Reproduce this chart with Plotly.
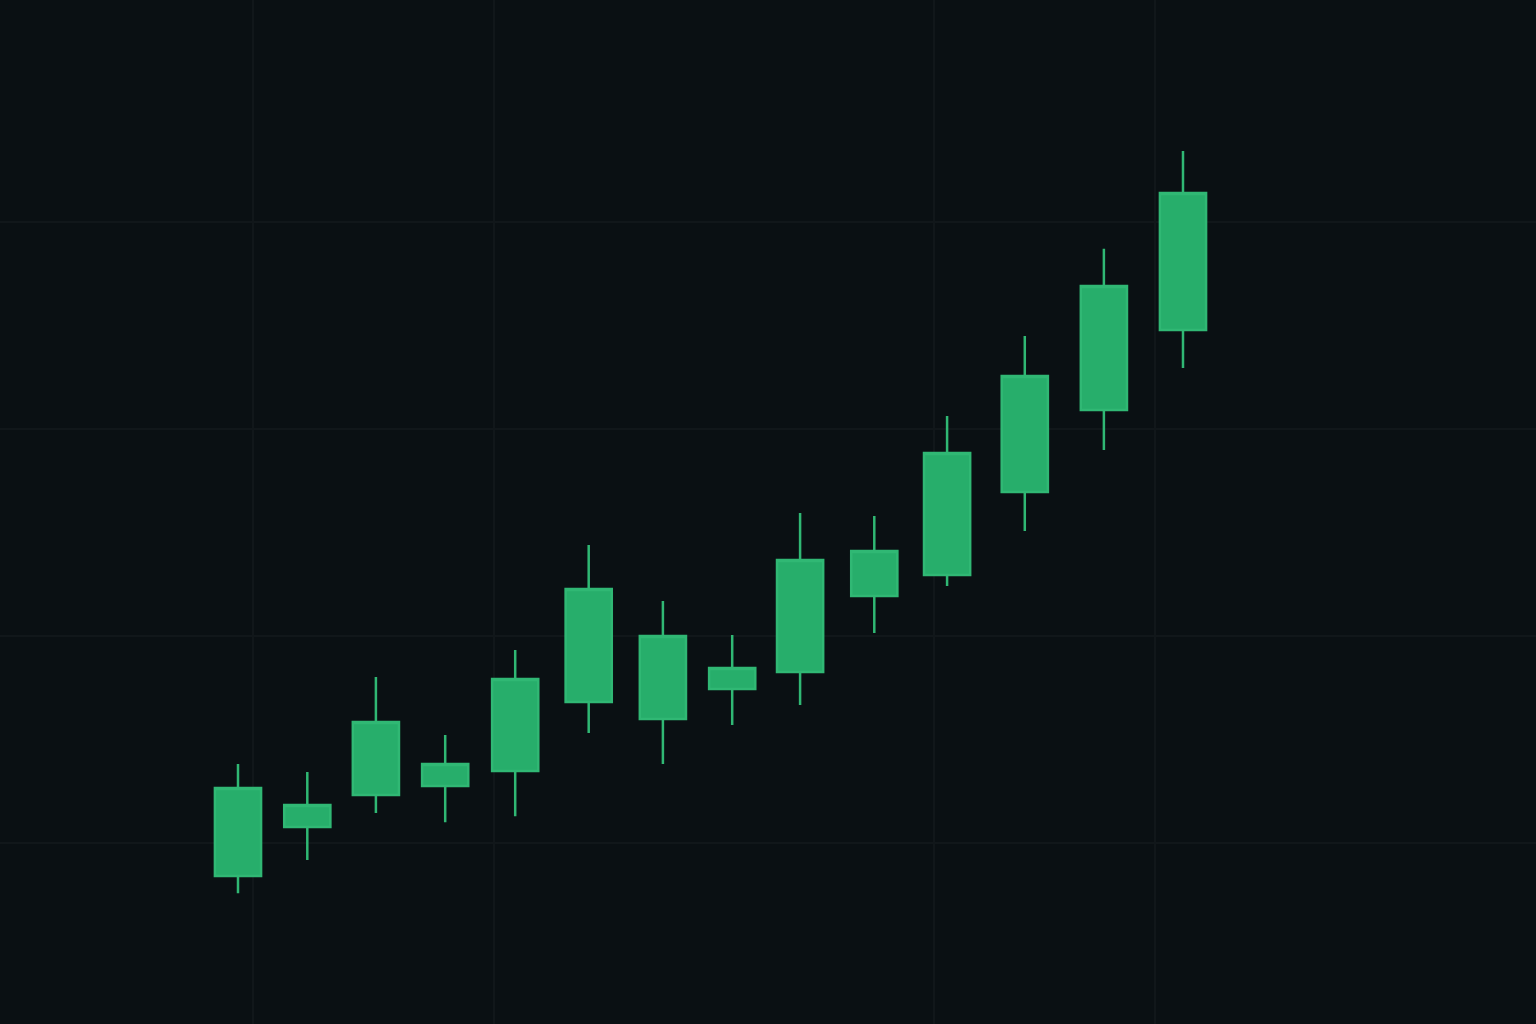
import plotly.graph_objects as go

# candle positions (session index, slightly uneven spacing as drawn)
x_pos = [0.0, 0.99, 1.97, 2.96, 3.96, 5.01, 6.07, 7.06, 8.03, 9.09, 10.13, 11.24, 12.37, 13.5]

# OHLC values
open_vals = [98.41, 100.77, 102.32, 102.75, 103.48, 106.81, 105.99, 107.44, 108.26, 111.93, 112.95, 116.96, 120.92, 124.78]
high_vals = [103.82, 103.43, 108.02, 105.22, 109.32, 114.40, 111.69, 110.05, 115.94, 115.80, 120.63, 124.49, 128.70, 133.43]
low_vals = [97.58, 99.18, 101.45, 101.01, 101.30, 105.31, 103.82, 105.70, 106.67, 110.14, 112.42, 115.07, 118.99, 122.95]
close_vals = [102.66, 101.84, 105.85, 103.82, 107.92, 112.27, 110.00, 108.45, 113.67, 114.11, 118.84, 122.56, 126.91, 131.40]

# where the faint grid lines sit
x_grid = [0.214, 3.657, 9.943, 13.1]
y_grid = [100, 110, 120, 130]

bg = "#0a1013"
grid = "#11171a"
green = "#27ae6b"

fig = go.Figure(go.Candlestick(
    x=x_pos, open=open_vals, high=high_vals, low=low_vals, close=close_vals,
    increasing=dict(line=dict(color="#30b874", width=2.5), fillcolor=green),
    decreasing=dict(line=dict(color="#30b874", width=2.5), fillcolor=green),
    whiskerwidth=0,
    hoverinfo="skip",
))

fig.update_layout(
    width=1536, height=1024,
    margin=dict(l=0, r=0, t=0, b=0),
    paper_bgcolor=bg, plot_bgcolor=bg,
    showlegend=False,
    boxgap=0.32, boxgroupgap=0,
    xaxis=dict(range=[-3.4, 18.543], tickvals=x_grid, showticklabels=False,
               showgrid=True, gridcolor=grid, gridwidth=1.5, zeroline=False,
               rangeslider=dict(visible=False), showline=False, ticks=""),
    yaxis=dict(range=[91.26, 140.72], tickvals=y_grid, showticklabels=False,
               showgrid=True, gridcolor=grid, gridwidth=1.5, zeroline=False,
               showline=False, ticks=""),
)

# drop the page margin so the figure fills the window
fig.write_html("out.html", config={"displayModeBar": False},
               post_script="document.body.style.margin='0';document.body.style.background='#0a1013';")
